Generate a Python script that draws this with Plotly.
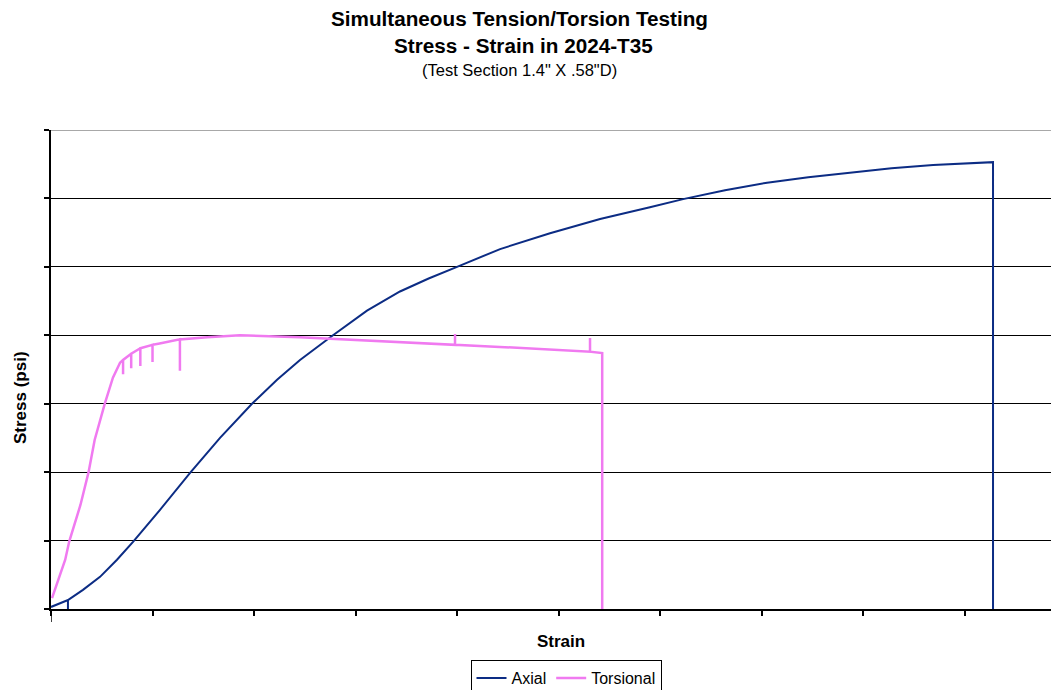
import plotly.graph_objects as go

# Axial series (strain, stress) (arbitrary units, no tick labels shown)
axial_strain = [0.167, 0.167, 0.0, 0.167, 0.315, 0.483, 0.65, 0.808, 1.074, 1.37, 1.665, 1.98, 2.227,
                2.453, 2.768, 3.113, 3.438, 3.72, 4.0, 4.424, 4.916, 5.409, 5.90, 6.227, 6.64, 7.054,
                7.46, 7.872, 8.28, 8.69, 9.0, 9.28, 9.28]
axial_stress = [0.0, 0.13, 0.03, 0.13, 0.28, 0.47, 0.72, 0.98, 1.45, 1.99, 2.50, 3.0, 3.35,
                3.64, 3.99, 4.36, 4.64, 4.83, 5.0, 5.26, 5.49, 5.70, 5.87, 5.99, 6.12, 6.23,
                6.31, 6.38, 6.44, 6.49, 6.51, 6.53, 0.0]

# Torsional series (strain, stress) including the small dips/spikes
tors_strain = [0.01, 0.07, 0.14, 0.18, 0.29, 0.37, 0.43, 0.53, 0.61, 0.68, 0.71, 0.71, 0.71,
               0.78, 0.79, 0.79, 0.79, 0.88, 0.88, 0.88, 1.0, 1.0, 1.0, 1.07, 1.27, 1.27, 1.27,
               1.54, 1.86, 2.45, 3.44, 3.98, 3.98, 3.98, 4.42, 5.31, 5.31, 5.31, 5.43, 5.43]
tors_stress = [0.16, 0.42, 0.72, 0.99, 1.52, 2.0, 2.47, 3.0, 3.38, 3.6, 3.64, 3.43, 3.64,
               3.72, 3.73, 3.52, 3.73, 3.81, 3.55, 3.81, 3.86, 3.61, 3.86, 3.88, 3.94, 3.48, 3.94,
               3.97, 4.0, 3.97, 3.90, 3.86, 4.02, 3.86, 3.83, 3.76, 3.96, 3.76, 3.74, 0.0]

FONT = "Liberation Sans, Arial, sans-serif"
OFF = 8  # page body margin in the browser
W, H = 1059 - OFF, 690 - OFF
ML, MR, MT, MB = 51 - OFF, 0, 130 - OFF, 690 - 609
PW, PH = W - ML - MR, H - MT - MB


def px(x):
    return (x - OFF - ML) / PW


def py(y):
    return (H - MB - (y - OFF)) / PH


fig = go.Figure()
fig.add_trace(go.Scatter(x=axial_strain, y=axial_stress, mode="lines", name="Axial",
                         line=dict(color="#0c2c84", width=2)))
fig.add_trace(go.Scatter(x=tors_strain, y=tors_stress, mode="lines", name="Torsional",
                         line=dict(color="#f07af0", width=2.5)))

ann = [
    dict(text="<b>Simultaneous Tension/Torsion Testing</b>", x=px(519), y=py(18), size=20.7, angle=0),
    dict(text="<b>Stress - Strain in 2024-T35</b>", x=px(523), y=py(45), size=20.7, angle=0),
    dict(text="(Test Section 1.4\" X .58\"D)", x=px(519), y=py(70), size=16.5, angle=0),
    dict(text="<b>Strain</b>", x=px(561), y=py(641), size=17, angle=0),
    dict(text="<b>Stress (psi)</b>", x=px(20), y=py(398), size=17, angle=-90),
]
fig.update_layout(
    width=W, height=H,
    margin=dict(l=ML, r=MR, t=MT, b=MB, autoexpand=False),
    paper_bgcolor="white", plot_bgcolor="white",
    font=dict(family=FONT, color="black"),
    showlegend=True,
    legend=dict(orientation="h", x=px(566), xanchor="center",
                y=py(660), yanchor="top", bordercolor="black", borderwidth=1,
                font=dict(size=16, family=FONT), bgcolor="white"),
    annotations=[dict(text=a["text"], x=a["x"], y=a["y"], xref="paper", yref="paper",
                      xanchor="center", yanchor="middle", showarrow=False, textangle=a["angle"],
                      font=dict(size=a["size"], family=FONT, color="black")) for a in ann],
)

fig.update_xaxes(range=[0, 9.93], dtick=1, tick0=0, showticklabels=False, ticks="outside",
                 ticklen=5, tickcolor="black", tickwidth=1.5, showgrid=False, zeroline=False,
                 showline=True, linecolor="black", linewidth=1.5, automargin=False)
fig.update_yaxes(range=[0, 7], dtick=1, tick0=0, showticklabels=False, ticks="outside",
                 ticklen=5, tickcolor="black", tickwidth=1.5, showgrid=True, gridcolor="black",
                 gridwidth=1.2, zeroline=False, showline=True, linecolor="black", linewidth=1.5,
                 automargin=False)

# gray top border of the plot area and the long origin tick
fig.add_shape(type="line", xref="paper", yref="y", x0=0, x1=1, y0=7, y1=7,
              line=dict(color="#a8a8a8", width=2), layer="above")
fig.add_shape(type="line", xref="x", yref="paper", x0=0, x1=0, y0=0, y1=-0.027,
              line=dict(color="black", width=1.5))

fig.write_html("out.html", post_script=(
    "document.documentElement.style.overflow='hidden';"
    "document.body.style.overflow='hidden';"))
